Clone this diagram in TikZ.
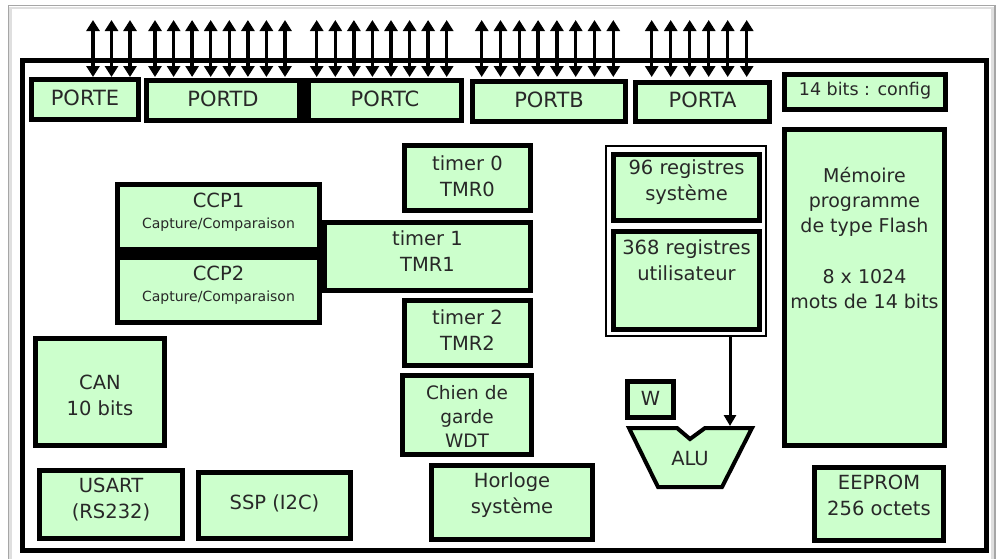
\documentclass[tikz,border=0pt]{standalone}
\usepackage{fontspec}
\setmainfont{DejaVu Sans}
\usetikzlibrary{arrows.meta}
\definecolor{boxgreen}{RGB}{204,255,204}
\definecolor{txt}{RGB}{40,40,40}
\tikzset{
  blk/.style={draw=black, fill=boxgreen, line width=5pt, inner sep=0pt, outer sep=0pt},
  lbl/.style={text=txt, align=center, font=\fontsize{19.5}{26}\selectfont, inner sep=0pt},
  portlbl/.style={font=\fontsize{21}{24}\selectfont},
  cfg/.style={font=\fontsize{17.5}{22}\selectfont},
  memlbl/.style={font=\fontsize{19}{25}\selectfont},
  wdtlbl/.style={font=\fontsize{18.5}{24}\selectfont},
  ccplbl/.style={font=\fontsize{19.5}{21}\selectfont},
  pin/.style={line width=3.5pt, {Triangle[width=13pt,length=11pt]}-{Triangle[width=13pt,length=11pt]}},
  feed/.style={line width=3pt, -{Triangle[width=12pt,length=11pt]}},
}
\newcommand\smallcap{\fontsize{14}{16}\selectfont}
\newcommand\bx[8]{%
  \node[blk, minimum width={#4-#2-5}, minimum height={#5-#3-5}] (#1) at ({(#2+#4)/2},{(#3+#5)/2}) {};
  \node[lbl,#7] (#1t) at ({(#2+#4)/2},#6) {#8};
}
\begin{document}
\begin{tikzpicture}[x=1pt,y=-1pt]
\useasboundingbox (0,0) rectangle (999,558);
\fill[white] (0,0) rectangle (999,558);
\clip (0,0) rectangle (999,558);
% screenshot border
\draw[gray!25, line width=2.5pt] (10.5,8) rectangle (992.5,600);
\draw[gray!70, line width=1.5pt] (8.5,5.5) rectangle (995,600);
% chip frame
\draw[line width=5pt] (22.5,60) rectangle (986.5,550);
% pins
\foreach \x [count=\i] in {93,111.5,130,
  155,173.6,192.1,210.7,229.3,247.9,266.4,285,
  316.7,335.3,353.9,372.4,391,409.6,428.1,446.7,
  481.7,500.5,519.3,538.1,556.9,575.7,594.5,613.3,
  651.7,670.7,689.7,708.7,727.7,746.7}{
  \coordinate (pt\i) at (\x,20);
  \coordinate (pb\i) at (\x,77);
  \draw[pin] (pt\i) -- (pb\i);
}
% ports
\bx{porte}{29}{77}{141}{122}{98}{portlbl}{PORTE}
\fill (300,78) rectangle (308,123);
\bx{portd}{144}{78}{302}{123}{99}{portlbl}{PORTD}
\bx{portc}{306}{78}{464}{123}{99}{portlbl}{PORTC}
\bx{portb}{470}{79}{628}{124}{100}{portlbl}{PORTB}
\bx{porta}{633}{80}{772}{124}{100}{portlbl}{PORTA}
\bx{config}{782}{72}{948}{112}{91}{cfg}{14 bits : config}
% memory
\bx{mem}{782}{127}{947}{448}{238}{memlbl}{Mémoire\\programme\\de type Flash\\[26pt]8 x 1024\\mots de 14 bits}
\bx{eeprom}{812}{465}{946}{543}{495}{}{EEPROM\\256 octets}
% timers and ccp
\bx{tmr0}{402}{143}{533}{213}{176}{}{timer 0\\TMR0}
\fill (115,250) rectangle (322,257);
\bx{ccp1}{115}{182}{322}{252}{212}{ccplbl}{CCP1\\{\smallcap Capture/Comparaison}}
\bx{ccp2}{115}{255}{322}{325}{285}{ccplbl}{CCP2\\{\smallcap Capture/Comparaison}}
\bx{tmr1}{322}{220}{533}{293}{251.5}{}{timer 1\\TMR1}
\bx{tmr2}{402}{298}{533}{368}{330}{}{timer 2\\TMR2}
\bx{wdt}{400}{373}{534}{457}{416}{wdtlbl}{Chien de\\garde\\WDT}
\bx{clk}{429}{463}{595}{542}{495}{}{Horloge\\système}
% peripherals
\bx{can}{33}{336}{167}{448}{395}{}{CAN\\10 bits}
\bx{usart}{37}{468}{185}{541}{500}{}{USART\\(RS232)}
\bx{ssp}{196}{470}{353}{541}{503}{}{SSP (I2C)}
% registers
\node[draw=black, fill=white, line width=2pt, inner sep=0pt, minimum width=160, minimum height=190] (regs) at (686,241) {};
\bx{sysreg}{611}{152}{762}{223}{182}{}{96 registres\\système}
\bx{usrreg}{611}{229}{762}{332}{260}{}{368 registres\\utilisateur}
% W and ALU
\bx{w}{625}{379}{676}{420}{398}{}{W}
\draw[line width=4pt, fill=boxgreen, line join=miter] (629,428) -- (677,428) -- (690,439) -- (705,428) -- (752,428) -- (722,487) -- (658,487) -- cycle;
\node[lbl] (alu) at (690,459) {ALU};
\coordinate (aluin) at (730,426);
\draw[feed] (regs.south -| aluin) -- (aluin);
\end{tikzpicture}
\end{document}
